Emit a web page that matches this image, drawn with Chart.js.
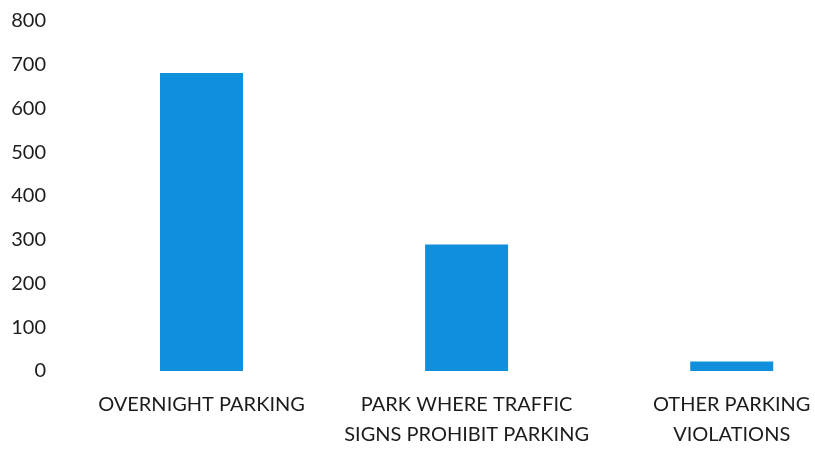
<!DOCTYPE html>
<html>
<head>
<meta charset="utf-8">
<script src="https://cdn.jsdelivr.net/npm/chart.js@4"></script>
<style>
  html, body { margin: 0; padding: 0; background: #ffffff; }
  #wrap { width: 815px; height: 451px; position: relative; }
</style>
</head>
<body>
<div id="wrap"><canvas id="c" width="815" height="451"></canvas></div>
<script>
// ---- data ----
const categories = [
  ["OVERNIGHT PARKING"],
  ["PARK WHERE TRAFFIC", "SIGNS PROHIBIT PARKING"],
  ["OTHER PARKING", "VIOLATIONS"]
];
const violations = [681, 289, 22];
const yTicks = [0, 100, 200, 300, 400, 500, 600, 700, 800];

// ---- chart ----
const points = violations.map((v, i) => ({ x: i, y: v }));
const FONT = "Lato";
const textColor = "#1c1c1c";

new Chart(document.getElementById("c"), {
  type: "bar",
  data: {
    datasets: [{
      data: points,
      backgroundColor: "#0F8FDC",
      borderWidth: 0,
      categoryPercentage: 1,
      barPercentage: 0.313
    }]
  },
  options: {
    responsive: false,
    animation: false,
    layout: { padding: { top: 17, right: 0, bottom: 0, left: 0 } },
    plugins: { legend: { display: false }, tooltip: { enabled: false } },
    scales: {
      x: {
        type: "linear",
        min: -0.5526,
        max: 2.3142,
        offset: false,
        grid: { display: false, drawTicks: false },
        border: { display: false },
        afterBuildTicks: (s) => { s.ticks = categories.map((_, i) => ({ value: i })); },
        afterFit: (s) => { s.height = 80; s.paddingLeft = 0; s.paddingRight = 0; },
        ticks: {
          autoSkip: false,
          maxRotation: 0,
          minRotation: 0,
          padding: 19,
          color: textColor,
          font: { family: FONT, size: 20, lineHeight: 1.5 },
          callback: (v) => categories[v] || ""
        }
      },
      y: {
        min: yTicks[0],
        max: yTicks[yTicks.length - 1],
        grid: { display: false, drawTicks: false },
        border: { display: false },
        afterBuildTicks: (s) => { s.ticks = yTicks.map(v => ({ value: v })); },
        afterFit: (s) => { s.width = 55; },
        ticks: {
          padding: 9,
          color: textColor,
          font: { family: FONT, size: 20 }
        }
      }
    }
  }
});
</script>
</body>
</html>
